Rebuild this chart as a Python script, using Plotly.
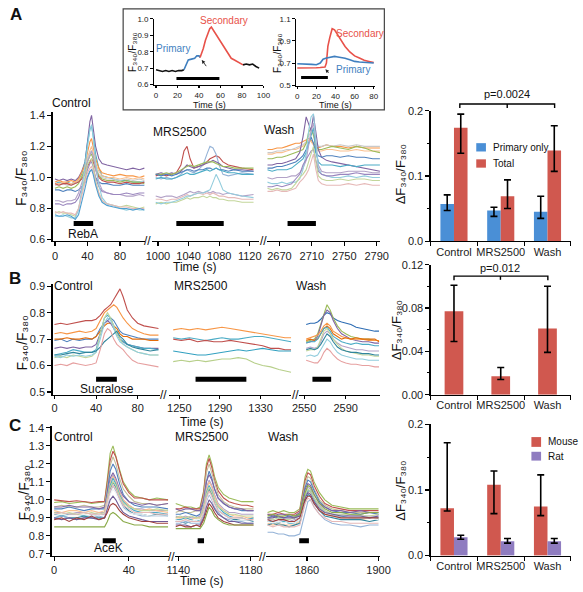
import plotly.graph_objects as go

W, H = 583, 592
FONT = "Liberation Sans, Arial, Helvetica, sans-serif"


def px(x):
    return x / W


def py(y):
    return 1 - y / H

# ======================= DATA =======================
# ---- inset, left cell (primary then secondary response) ----
INL_pre_t = [0, 3, 6, 9, 12, 15, 18, 21, 24, 26]
INL_pre_v = [.69, .685, .68, .685, .68, .685, .68, .685, .685, .69]
INL_pri_t = [26, 28, 30, 33, 36, 38, 40, 41]
INL_pri_v = [.69, .72, .75, .755, .76, .775, .775, .765]
INL_sec_t = [41, 42, 44, 46, 48, 50, 51.5, 53, 55, 58, 61, 64, 67, 70, 73, 76, 79, 81]
INL_sec_v = [.765, .78, .82, .87, .91, .94, .95, .935, .91, .88, .85, .82, .79, .76, .75, .74, .73, .72]
INL_post_t = [81, 84, 87, 90, 93, 96]
INL_post_v = [.72, .725, .72, .725, .71, .70]
INL_stim = [19, 59]
INL_stim_level = 0.637
# ---- inset, right cells ----
INR_t = [0, 5, 10, 15, 20, 24, 27, 29, 30.5, 32, 34, 36.5, 39, 42.5, 46, 50, 55, 60, 65, 70, 75, 80]
INR_pri = [.694, .69, .692, .688, .685, .70, .735, .744, .745, .748, .75, .755, .76, .755, .75, .744, .73, .715, .71, .705, .70, .70]
INR_sec = [.656, .655, .66, .655, .658, .66, .66, .665, .70, .85, .93, 1.01, 1.0, .95, .90, .85, .80, .765, .745, .725, .715, .705]
INR_stim = [4, 32]
INR_stim_level = 0.57

# ---- Panel A traces (RebA) ----
A1_t = [0, 5, 10, 15, 20, 25, 29, 33, 37, 40, 43, 45, 47, 50, 54, 58, 64, 72, 80, 88, 96, 104, 110]
A1_v = [
    [.99, .98, .99, .98, .99, .98, 1.0, 1.04, 1.1, 1.22, 1.36, 1.40, 1.33, 1.2, 1.12, 1.09, 1.08, 1.07, 1.06, 1.05, 1.06, 1.05, 1.06],
    [.96, .97, .96, .97, .96, .97, .98, 1.02, 1.1, 1.22, 1.31, 1.33, 1.27, 1.15, 1.06, 1.01, 1.0, .99, .98, .98, .97, .97, .97],
    [.97, .98, .97, .97, .98, .97, .99, 1.03, 1.08, 1.16, 1.23, 1.25, 1.2, 1.12, 1.06, 1.03, 1.02, 1.01, 1.02, 1.01, 1.01, 1.0, 1.01],
    [.96, .96, .97, .96, .96, .97, .98, 1.01, 1.06, 1.13, 1.18, 1.2, 1.16, 1.09, 1.04, 1.01, 1.0, 1.0, .99, 1.0, .99, 1.0, .99],
    [.95, .95, .96, .95, .95, .96, .97, 1.0, 1.05, 1.12, 1.16, 1.17, 1.14, 1.07, 1.02, 1.0, .99, .99, .98, .99, .98, .99, .98],
    [.93, .94, .93, .94, .93, .94, .96, 1.0, 1.05, 1.1, 1.14, 1.15, 1.12, 1.06, 1.01, .99, .98, .98, .97, .98, .97, .97, .96],
    [.96, .95, .96, .96, .95, .96, .97, .99, 1.02, 1.07, 1.1, 1.12, 1.1, 1.05, 1.0, .98, .97, .97, .96, .97, .96, .96, .97],
    [.92, .92, .91, .92, .92, .91, .92, .94, .97, 1.01, 1.04, 1.05, 1.04, 1.0, .97, .96, .96, .95, .95, .96, .95, .95, .95],
    [.85, .85, .84, .85, .85, .86, .9, .96, 1.03, 1.1, 1.15, 1.17, 1.14, 1.05, .97, .92, .9, .89, .89, .88, .88, .89, .88],
    [.83, .83, .82, .83, .83, .84, .87, .93, .99, 1.05, 1.09, 1.1, 1.07, 1.0, .94, .91, .9, .89, .89, .9, .89, .9, .9],
    [.77, .78, .77, .77, .76, .75, .8, .9, 1.0, 1.08, 1.11, 1.12, 1.08, .98, .9, .85, .83, .82, .81, .82, .81, .8, .81],
    [.75, .75, .76, .75, .74, .74, .79, .92, 1.08, 1.22, 1.31, 1.34, 1.26, 1.1, .95, .87, .83, .82, .8, .79, .8, .79, .79],
    [.78, .77, .78, .77, .77, .76, .8, .88, .96, 1.03, 1.06, 1.07, 1.04, .96, .9, .85, .83, .82, .81, .81, .8, .8, .8],
    [.76, .75, .75, .76, .75, .73, .76, .84, .93, 1.0, 1.04, 1.05, 1.02, .95, .88, .84, .82, .81, .8, .8, .79, .8, .79],
]
A2_t = [997, 1004, 1011, 1018, 1024, 1030, 1034, 1038, 1042, 1047, 1053, 1059, 1064, 1068, 1072, 1076, 1080, 1085, 1092, 1100, 1110, 1125]
A2_v = [
    [1.01, 1.02, 1.01, 1.02, 1.03, 1.08, 1.17, 1.2, 1.12, 1.06, 1.07, 1.08, 1.1, 1.12, 1.13, 1.14, 1.13, 1.1, 1.08, 1.07, 1.06, 1.05],
    [1.0, .99, 1.0, .99, 1.0, 1.02, 1.04, 1.05, 1.04, 1.03, 1.05, 1.08, 1.15, 1.2, 1.19, 1.15, 1.08, 1.02, 1.01, 1.02, 1.03, 1.02],
    [1.02, 1.03, 1.02, 1.03, 1.02, 1.04, 1.06, 1.08, 1.07, 1.06, 1.07, 1.08, 1.09, 1.1, 1.11, 1.1, 1.09, 1.07, 1.06, 1.05, 1.05, 1.04],
    [1.02, 1.02, 1.03, 1.02, 1.03, 1.05, 1.06, 1.07, 1.08, 1.07, 1.08, 1.09, 1.1, 1.1, 1.1, 1.09, 1.08, 1.07, 1.07, 1.06, 1.06, 1.06],
    [1.02, 1.01, 1.02, 1.01, 1.02, 1.03, 1.04, 1.05, 1.05, 1.04, 1.05, 1.05, 1.06, 1.06, 1.05, 1.06, 1.05, 1.05, 1.04, 1.05, 1.04, 1.04],
    [.99, 1.0, .99, .99, 1.0, 1.01, 1.02, 1.03, 1.02, 1.02, 1.03, 1.04, 1.05, 1.04, 1.05, 1.06, 1.05, 1.04, 1.03, 1.03, 1.02, 1.02],
    [.88, .87, .88, .88, .87, .88, .89, .9, .91, .9, .91, .9, .91, .9, .91, .9, .9, .89, .9, .89, .88, .89],
    [.86, .86, .85, .86, .86, .87, .88, .89, .88, .89, .9, .89, .9, .89, .9, .89, .88, .88, .87, .87, .86, .86],
    [.83, .84, .83, .84, .84, .85, .86, .87, .86, .87, .87, .88, .87, .88, .87, .87, .86, .86, .85, .85, .84, .84],
    [.84, .83, .84, .84, .85, .86, .87, .88, .88, .89, .9, .9, .91, .92, .97, 1.02, .98, .92, .9, .89, .88, .87],
]
A3_t = [2655, 2661, 2667, 2673, 2679, 2685, 2690, 2695, 2699, 2703, 2706, 2709, 2712, 2715, 2718, 2722, 2728, 2735, 2745, 2755, 2765, 2775, 2785, 2794]
A3_v = [
    [1.18, 1.18, 1.19, 1.19, 1.2, 1.21, 1.22, 1.22, 1.23, 1.24, 1.25, 1.24, 1.22, 1.2, 1.19, 1.2, 1.21, 1.2, 1.2, 1.19, 1.2, 1.19, 1.19, 1.19],
    [1.15, 1.15, 1.16, 1.16, 1.17, 1.18, 1.18, 1.19, 1.2, 1.22, 1.24, 1.23, 1.21, 1.18, 1.17, 1.17, 1.18, 1.18, 1.17, 1.17, 1.18, 1.17, 1.17, 1.17],
    [1.16, 1.16, 1.17, 1.17, 1.18, 1.18, 1.19, 1.2, 1.21, 1.23, 1.26, 1.3, 1.28, 1.22, 1.2, 1.2, 1.21, 1.2, 1.21, 1.2, 1.21, 1.2, 1.2, 1.2],
    [1.12, 1.12, 1.13, 1.13, 1.14, 1.15, 1.16, 1.17, 1.18, 1.22, 1.29, 1.32, 1.27, 1.2, 1.18, 1.18, 1.19, 1.2, 1.19, 1.18, 1.2, 1.19, 1.17, 1.16],
    [1.08, 1.08, 1.09, 1.09, 1.1, 1.11, 1.12, 1.16, 1.26, 1.39, 1.35, 1.3, 1.4, 1.3, 1.18, 1.13, 1.11, 1.1, 1.09, 1.08, 1.07, 1.06, 1.05, 1.04],
    [1.06, 1.06, 1.07, 1.07, 1.08, 1.09, 1.1, 1.12, 1.14, 1.18, 1.22, 1.26, 1.22, 1.16, 1.14, 1.13, 1.14, 1.14, 1.13, 1.14, 1.13, 1.13, 1.12, 1.12],
    [1.05, 1.04, 1.05, 1.05, 1.05, 1.06, 1.08, 1.1, 1.12, 1.16, 1.22, 1.27, 1.32, 1.16, 1.1, 1.08, 1.08, 1.08, 1.07, 1.08, 1.07, 1.08, 1.08, 1.08],
    [1.0, .99, 1.0, 1.0, 1.0, 1.01, 1.01, 1.03, 1.06, 1.11, 1.2, 1.3, 1.35, 1.2, 1.08, 1.04, 1.03, 1.03, 1.03, 1.04, 1.04, 1.04, 1.03, 1.03],
    [.97, .96, .96, .97, .96, .97, .97, .99, 1.05, 1.15, 1.3, 1.39, 1.41, 1.22, 1.06, 1.02, 1.01, 1.0, 1.0, 1.01, 1.0, 1.01, 1.0, 1.0],
    [.94, .94, .95, .94, .95, .96, .99, 1.02, 1.08, 1.12, 1.15, 1.17, 1.18, 1.1, 1.04, 1.02, 1.01, 1.01, 1.02, 1.02, 1.03, 1.02, 1.02, 1.02],
    [.93, .92, .93, .92, .92, .93, .96, 1.0, 1.02, 1.05, 1.1, 1.15, 1.2, 1.1, 1.01, .99, .98, .98, .99, .98, .99, .99, .98, .98],
    [.91, .91, .92, .91, .91, .92, .93, .97, .99, 1.02, 1.05, 1.1, 1.15, 1.05, .98, .96, .95, .95, .95, .96, .95, .96, .95, .95],
]
A_stim = [[23, 47], [1024, 1086], [2680, 2715]]
A_stim_level = 0.703

# ---- Panel B traces (Sucralose) ----
B1_t = [0, 6, 12, 18, 24, 30, 36, 40, 44, 48, 51, 54, 57, 60, 63, 66, 70, 75, 80, 86, 92, 100]
B1_v = [
    [.755, .76, .755, .76, .765, .77, .77, .775, .79, .81, .82, .83, .85, .87, .89, .86, .81, .78, .76, .75, .745, .74],
    [.72, .725, .72, .725, .73, .725, .73, .74, .77, .8, .81, .82, .83, .82, .8, .78, .76, .74, .73, .72, .715, .715],
    [.695, .7, .69, .7, .695, .7, .7, .71, .74, .76, .77, .78, .77, .75, .73, .72, .715, .71, .705, .7, .7, .7],
    [.7, .7, .705, .7, .7, .705, .7, .71, .73, .75, .76, .76, .75, .74, .72, .71, .71, .7, .7, .7, .695, .695],
    [.665, .67, .665, .67, .665, .67, .67, .68, .72, .76, .77, .76, .74, .72, .7, .69, .68, .675, .67, .665, .665, .665],
    [.64, .645, .65, .66, .655, .65, .65, .66, .72, .78, .79, .78, .75, .72, .7, .69, .68, .675, .67, .665, .665, .66],
    [.63, .635, .63, .64, .635, .63, .635, .65, .72, .78, .8, .78, .75, .72, .7, .68, .67, .66, .65, .645, .64, .64],
    [.635, .63, .64, .635, .64, .635, .64, .65, .7, .76, .78, .77, .74, .71, .69, .68, .67, .66, .65, .645, .64, .64],
    [.64, .64, .645, .65, .645, .65, .65, .655, .67, .69, .7, .71, .72, .73, .71, .7, .68, .67, .665, .66, .655, .66],
    [.6, .605, .6, .61, .605, .6, .605, .61, .66, .72, .74, .73, .7, .68, .67, .66, .64, .62, .61, .605, .6, .595],
]
B2_t = [1244, 1252, 1260, 1268, 1276, 1284, 1292, 1300, 1308, 1316, 1324, 1332, 1340, 1348, 1354, 1360]
B2_v = [
    [.735, .74, .735, .74, .735, .74, .745, .74, .735, .73, .725, .72, .715, .71, .705, .705],
    [.705, .7, .705, .7, .695, .7, .705, .7, .7, .705, .71, .71, .705, .7, .695, .69],
    [.7, .695, .7, .69, .695, .69, .69, .695, .69, .685, .68, .675, .665, .665, .66, .66],
    [.655, .65, .645, .64, .64, .645, .65, .655, .66, .655, .66, .665, .66, .655, .655, .655],
    [.615, .62, .615, .62, .615, .62, .625, .625, .63, .625, .61, .6, .595, .585, .58, .575],
]
B3_t = [2552, 2556, 2560, 2563, 2566, 2569, 2572, 2575, 2578, 2582, 2586, 2590, 2595, 2600, 2606, 2612, 2618, 2622]
B3_v = [
    [.755, .76, .76, .765, .775, .79, .8, .795, .78, .77, .765, .76, .755, .745, .74, .735, .73, .73],
    [.69, .695, .7, .72, .76, .8, .83, .81, .78, .75, .73, .72, .71, .705, .7, .7, .695, .695],
    [.685, .69, .695, .71, .75, .79, .81, .8, .77, .74, .72, .71, .7, .695, .69, .69, .685, .685],
    [.7, .705, .71, .715, .73, .75, .76, .75, .73, .72, .71, .705, .7, .7, .7, .695, .695, .695],
    [.695, .7, .695, .7, .72, .74, .75, .74, .72, .71, .7, .705, .7, .705, .7, .7, .7, .69],
    [.685, .69, .69, .7, .72, .74, .745, .73, .71, .7, .69, .685, .68, .685, .68, .68, .675, .675],
    [.665, .67, .665, .67, .69, .72, .73, .72, .7, .685, .675, .67, .665, .66, .66, .655, .655, .655],
    [.655, .66, .66, .67, .7, .73, .74, .72, .7, .68, .665, .655, .65, .645, .64, .64, .635, .635],
    [.66, .665, .66, .665, .68, .7, .72, .71, .69, .67, .66, .655, .65, .65, .645, .645, .64, .64],
    [.635, .64, .635, .64, .66, .68, .7, .69, .67, .65, .64, .635, .63, .625, .625, .62, .62, .62],
    [.62, .615, .61, .61, .625, .65, .665, .655, .64, .625, .615, .61, .605, .605, .6, .6, .595, .595],
]
B_stim = [[40, 60], [1266, 1316], [2558, 2576]]
B_stim_level = 0.548

# ---- Panel C traces (AceK) ----
C1_t = [0, 4, 8, 12, 16, 20, 24, 27, 28.5, 30, 31.5, 33, 35, 37, 40, 43, 47, 51, 55, 61]
C1_v = [
    [.985, .99, .98, .985, .99, .98, .985, .99, 1.12, 1.26, 1.3, 1.25, 1.17, 1.1, 1.05, 1.02, 1.01, 1.0, 1.01, 1.0],
    [1.0, .995, .99, .995, .99, .985, .99, .99, 1.1, 1.22, 1.27, 1.24, 1.16, 1.09, 1.04, 1.01, 1.01, 1.0, 1.0, 1.0],
    [.96, .97, .96, .96, .97, .96, .96, .97, 1.07, 1.19, 1.24, 1.2, 1.12, 1.06, 1.02, .99, .98, .98, .97, .98],
    [.95, .95, .96, .95, .94, .95, .95, .95, 1.05, 1.16, 1.2, 1.17, 1.09, 1.03, .99, .97, .96, .96, .96, .95],
    [.96, .96, .97, .96, .96, .96, .95, .96, 1.03, 1.12, 1.15, 1.12, 1.06, 1.02, .99, .98, .97, .98, .97, .98],
    [.93, .93, .92, .93, .93, .92, .93, .93, 1.02, 1.1, 1.14, 1.11, 1.05, 1.0, .97, .95, .95, .94, .94, .94],
    [.94, .93, .94, .94, .93, .94, .93, .94, 1.01, 1.09, 1.13, 1.1, 1.04, 1.0, .97, .95, .94, .95, .94, .93],
    [.92, .91, .92, .92, .91, .91, .92, .92, 1.0, 1.08, 1.12, 1.09, 1.03, .99, .96, .94, .93, .93, .93, .92],
    [.9, .91, .9, .9, .91, .9, .9, .9, .98, 1.06, 1.1, 1.07, 1.01, .97, .94, .92, .92, .91, .92, .91],
    [.93, .92, .93, .92, .92, .93, .92, .93, 1.0, 1.07, 1.1, 1.08, 1.02, .98, .96, .95, .94, .94, .95, .94],
    [.9, .91, .9, .89, .9, .9, .91, .9, .97, 1.04, 1.08, 1.05, 1.0, .96, .93, .92, .91, .91, .91, .91],
    [.91, .92, .91, .91, .92, .91, .92, .91, .98, 1.03, 1.06, 1.04, .99, .95, .93, .92, .92, .91, .91, .91],
    [.9, .89, .9, .89, .9, .9, .89, .9, .95, 1.0, 1.02, 1.0, .96, .93, .91, .9, .89, .88, .88, .88],
    [.89, .9, .88, .9, .89, .91, .89, .9, .93, .97, .98, .97, .94, .92, .9, .89, .88, .88, .87, .87],
    [.85, .85, .85, .85, .85, .85, .85, .85, .88, .92, .93, .92, .9, .88, .87, .86, .86, .85, .85, .85],
    [.92, .93, .92, .92, .93, .92, .92, .92, .99, 1.05, 1.08, 1.06, 1.01, .97, .95, .93, .93, .93, .92, .92],
]
C2_t = [1138.5, 1141, 1144, 1147, 1150, 1152, 1154, 1155.5, 1157, 1158.5, 1160, 1162, 1165, 1168, 1171, 1175, 1178, 1181.5]
C2_v = [
    [.98, .97, .96, .96, .95, .96, 1.05, 1.2, 1.25, 1.2, 1.13, 1.07, 1.03, 1.01, 1.0, .99, .99, .99],
    [.95, .95, .96, .95, .95, .95, 1.04, 1.18, 1.23, 1.18, 1.11, 1.05, 1.01, .99, .98, .97, .97, .96],
    [.93, .94, .93, .93, .94, .94, 1.02, 1.15, 1.2, 1.15, 1.09, 1.03, .99, .97, .96, .95, .95, .95],
    [.92, .92, .93, .92, .91, .92, .99, 1.1, 1.16, 1.12, 1.06, 1.01, .98, .96, .95, .94, .94, .94],
    [.95, .94, .95, .95, .94, .94, 1.0, 1.1, 1.14, 1.11, 1.06, 1.01, .98, .96, .95, .95, .94, .94],
    [.91, .9, .91, .9, .9, .91, .97, 1.07, 1.11, 1.08, 1.03, .98, .95, .93, .93, .92, .92, .92],
    [.9, .9, .9, .89, .9, .9, .96, 1.05, 1.1, 1.07, 1.02, .97, .94, .92, .91, .91, .9, .9],
    [.89, .89, .9, .89, .88, .89, .95, 1.04, 1.08, 1.05, 1.0, .96, .93, .91, .9, .9, .89, .9],
    [.88, .88, .87, .88, .88, .88, .93, 1.01, 1.06, 1.03, .98, .94, .92, .9, .89, .89, .89, .88],
    [.9, .91, .9, .91, .9, .9, .95, 1.03, 1.07, 1.04, 1.0, .96, .94, .92, .92, .91, .91, .91],
    [.87, .87, .88, .87, .87, .87, .92, .99, 1.03, 1.0, .96, .93, .9, .89, .88, .88, .87, .87],
    [.89, .88, .89, .88, .89, .89, .93, 1.0, 1.04, 1.01, .97, .94, .92, .9, .9, .89, .89, .89],
    [.86, .86, .86, .85, .86, .86, .9, .96, 1.0, .98, .95, .92, .9, .88, .88, .87, .87, .87],
    [.85, .86, .85, .85, .86, .85, .89, .94, .98, .96, .93, .9, .88, .87, .86, .86, .86, .86],
    [.84, .84, .84, .84, .84, .84, .87, .92, .96, .94, .91, .89, .87, .86, .86, .86, .86, .86],
    [.88, .88, .89, .88, .88, .88, .93, 1.01, 1.05, 1.02, .98, .94, .92, .9, .9, .9, .89, .89],
]
C3_t = [1838, 1841, 1844, 1847, 1850, 1853, 1856, 1857.5, 1859, 1860.5, 1862, 1864, 1867, 1870, 1874, 1879, 1884, 1890, 1895, 1900]
C3_v = [
    [.93, .94, .93, .94, .93, .93, .95, 1.05, 1.13, 1.17, 1.16, 1.1, 1.04, 1.0, .97, .96, .95, .95, .95, .95],
    [.92, .92, .93, .92, .92, .92, .94, 1.03, 1.11, 1.15, 1.14, 1.08, 1.02, .98, .96, .95, .94, .94, .94, .94],
    [.91, .91, .9, .91, .91, .9, .93, 1.01, 1.09, 1.13, 1.12, 1.06, 1.0, .97, .95, .94, .93, .93, .93, .92],
    [.9, .91, .9, .9, .91, .9, .92, 1.0, 1.07, 1.11, 1.1, 1.05, .99, .96, .94, .93, .93, .92, .93, .92],
    [.92, .91, .92, .92, .91, .91, .93, 1.0, 1.06, 1.09, 1.08, 1.03, .98, .96, .94, .94, .93, .94, .93, .93],
    [.89, .89, .88, .89, .88, .89, .9, .97, 1.04, 1.07, 1.06, 1.01, .97, .94, .92, .92, .91, .91, .91, .91],
    [.87, .86, .87, .86, .86, .86, .88, .95, 1.02, 1.05, 1.04, .99, .95, .92, .91, .9, .9, .89, .9, .9],
    [.88, .88, .87, .88, .87, .87, .89, .96, 1.02, 1.05, 1.05, 1.0, .96, .93, .91, .91, .9, .9, .9, .9],
    [.86, .87, .86, .86, .85, .86, .87, .93, .99, 1.03, 1.02, .98, .94, .91, .9, .89, .89, .89, .88, .89],
    [.9, .89, .9, .89, .89, .9, .91, .97, 1.03, 1.06, 1.05, 1.01, .96, .94, .92, .92, .92, .91, .91, .92],
    [.82, .82, .81, .81, .8, .8, .81, .87, .94, .99, 1.0, .96, .92, .89, .87, .86, .86, .85, .86, .86],
    [.88, .87, .88, .87, .88, .87, .89, .95, 1.01, 1.04, 1.03, .99, .95, .93, .91, .9, .9, .9, .9, .89],
    [.9, .9, .91, .9, .9, .9, .91, .96, 1.01, 1.04, 1.03, .99, .95, .93, .92, .91, .91, .91, .9, .91],
    [.89, .88, .89, .89, .88, .88, .9, .95, 1.0, 1.02, 1.02, .98, .94, .92, .91, .9, .9, .9, .9, .9],
    [.91, .92, .91, .91, .92, .91, .92, .98, 1.04, 1.08, 1.07, 1.03, .98, .95, .93, .93, .92, .92, .93, .93],
    [.86, .85, .86, .85, .85, .85, .86, .92, .98, 1.01, 1.0, .96, .92, .9, .88, .88, .87, .87, .87, .87],
]
C_stim = [[26, 33], [1150.7, 1154.2], [1855.7, 1861.1]]
C_stim_level = 0.773

# ---- bar charts ----
CATS = ["Control", "MRS2500", "Wash"]
A_primary = [0.057, 0.047, 0.045]
A_primary_hi = [0.071, 0.052, 0.069]
A_primary_lo = [0.047, 0.038, 0.035]
A_total = [0.174, 0.069, 0.139]
A_total_hi = [0.195, 0.094, 0.177]
A_total_lo = [0.135, 0.050, 0.107]
B_total = [0.077, 0.017, 0.061]
B_total_hi = [0.101, 0.025, 0.100]
B_total_lo = [0.049, 0.014, 0.039]
C_mouse = [0.072, 0.108, 0.075]
C_mouse_hi = [0.172, 0.129, 0.123]
C_mouse_lo = [0.068, 0.064, 0.061]
C_rat = [0.028, 0.022, 0.022]
C_rat_hi = [0.031, 0.026, 0.026]
C_rat_lo = [0.025, 0.019, 0.019]

# ======================= STYLE =======================
A1_col = ['#8064A2', '#4BACC6', '#F79646', '#FAC090', '#C9C9C9', '#9BBB59', '#C0504D',
          '#4F81BD', '#B3A2C7', '#9A86BE', '#C3D69B', '#93CDDD', '#E6B9B8', '#4F9FD0']
A2_col = ['#C0504D', '#95B3D7', '#8064A2', '#9BBB59', '#4F81BD', '#4BACC6',
          '#B3A2C7', '#E6B9B8', '#C3D69B', '#93CDDD']
A3_col = ['#F79646', '#FAC090', '#C9C9C9', '#9BBB59', '#8064A2', '#4F81BD',
          '#4BACC6', '#B3A2C7', '#93CDDD', '#9A86BE', '#C3D69B', '#E6B9B8']
B1_col = ['#C0504D', '#F79646', '#4F81BD', '#E46C0A', '#8064A2', '#4BACC6',
          '#C3D69B', '#93CDDD', '#31859C', '#E6A0A0']
B2_col = ['#F79646', '#4BACC6', '#C0504D', '#31A0C0', '#B7CF8A']
B3_col = ['#2E6DB4', '#9BBB59', '#8064A2', '#F79646', '#E46C0A', '#4BACC6',
          '#B3A2C7', '#C3D69B', '#31859C', '#93CDDD', '#E6A0A0']
C_col = ['#9BBB59', '#C0504D', '#C4BD97', '#4F81BD', '#8064A2', '#B3A2C7', '#FAC090',
         '#4BACC6', '#31859C', '#C3D69B', '#95B3D7', '#F2F2F2', '#6F5A96', '#A0403D',
         '#8AAA48', '#E6B9B8']

BLUE_BAR = '#4A8FD6'
RED_BAR = '#D0584F'
PURPLE_BAR = '#8F7CC0'

fig = go.Figure()

AX = dict(showline=True, linecolor='black', linewidth=1.2, ticks='outside', ticklen=4,
          tickwidth=1.1, tickcolor='black', showgrid=False, zeroline=False,
          tickfont=dict(family=FONT, size=11, color='#222'))


def xax(dom, rng, tickvals, anchor, **kw):
    d = dict(AX)
    d.update(domain=[px(dom[0]), px(dom[1])], range=rng, tickvals=tickvals, anchor=anchor,
             tickangle=0)
    d.update(kw)
    return d


def yax(dom, rng, tickvals, anchor, fmt='.1f', **kw):
    d = dict(AX)
    d.update(domain=[py(dom[0]), py(dom[1])], range=rng, tickvals=tickvals, anchor=anchor,
             tickformat=fmt)
    d.update(kw)
    return d


def barx(anchor):
    d = dict(AX)
    d.update(domain=[px(435.8), px(580.8)], type='category', range=[-0.5, 2.5],
             anchor=anchor, tickson='boundaries', tickangle=0,
             tickfont=dict(family=FONT, size=11, color='#222'))
    return d


layout = {}
# Panel A traces
layout['yaxis'] = yax([240, 108.4], [0.59, 1.42], [0.6, 0.8, 1.0, 1.2, 1.4], 'x')
layout['xaxis'] = xax([45, 141], [-3, 111.3], [0, 40, 80], 'y')
layout['xaxis2'] = xax([148, 258], [992.4, 1131.6], [1000, 1040, 1080, 1120], 'y')
layout['xaxis3'] = xax([267, 384], [2655, 2794.7], [2670, 2710, 2750, 2790], 'y')
# Panel A bar
MIN = dict(ticks='outside', ticklen=2.5, tickcolor='black', tickwidth=1)
layout['xaxis4'] = barx('y2')
layout['yaxis2'] = yax([240, 107], [0, 0.2], [0, 0.1, 0.2], 'x4', minor=dict(MIN, dtick=0.05))
# Panel B traces
layout['yaxis3'] = yax([396.7, 283.3], [0.49, 0.91], [0.5, 0.6, 0.7, 0.8, 0.9], 'x5')
layout['xaxis5'] = xax([45, 156], [-1.86, 101.4], [0, 40, 80], 'y3', ticklen=3)
layout['xaxis6'] = xax([165, 292], [1239.5, 1360.4], [1250, 1290, 1330], 'y3', ticklen=3)
layout['xaxis7'] = xax([300, 384], [2545.3, 2623.4], [2550, 2590], 'y3', ticklen=3)
# Panel B bar
layout['xaxis8'] = barx('y4')
layout['yaxis4'] = yax([396.7, 264], [0, 0.12], [0, 0.04, 0.08, 0.12], 'x8', fmt='.2f',
                       minor=dict(MIN, dtick=0.02))
# Panel C traces
layout['yaxis5'] = yax([561, 428.8], [0.69, 1.41], [0.7, 0.8, 0.9, 1.0, 1.1, 1.2, 1.3, 1.4], 'x9')
layout['xaxis9'] = xax([44, 165], [-1.4, 61.3], [0, 40], 'y5')
layout['xaxis10'] = xax([172, 258], [1138.4, 1184.3], [1140, 1180], 'y5')
layout['xaxis11'] = xax([266, 384], [1837.3, 1901.1], [1860, 1900], 'y5')
# Panel C bar
layout['xaxis12'] = barx('y6')
layout['yaxis6'] = yax([561, 427], [0, 0.2], [0, 0.1, 0.2], 'x12', minor=dict(MIN, dtick=0.05))
# Insets
SM = dict(family=FONT, size=8, color='#222')
layout['xaxis13'] = xax([150, 263], [-1.8, 100], [0, 20, 40, 60, 80, 100], 'y7',
                        tickfont=SM, ticklen=2, linewidth=1)
layout['yaxis7'] = yax([81, 13.2], [0.595, 1.0], [0.6, 0.7, 0.8, 0.9, 1.0], 'x13',
                       tickfont=SM, ticklen=3, linewidth=1)
layout['xaxis14'] = xax([297, 378], [-1, 81], [0, 20, 40, 60, 80], 'y8',
                        tickfont=SM, ticklen=2, linewidth=1)
layout['yaxis8'] = yax([82, 13], [0.49, 1.1], [0.5, 0.7, 0.9, 1.1], 'x14',
                       tickfont=SM, ticklen=3, linewidth=1)


def add_lines(t, vals, cols, xa, ya, width=1.1):
    for v, c in zip(vals, cols):
        fig.add_trace(go.Scatter(x=t, y=v, mode='lines', line=dict(color=c, width=width),
                                 xaxis=xa, yaxis=ya, showlegend=False, hoverinfo='skip'))


def add_stim(seg, level, xa, ya):
    fig.add_trace(go.Scatter(x=seg, y=[level, level], mode='lines',
                             line=dict(color='black', width=5), xaxis=xa, yaxis=ya,
                             showlegend=False, hoverinfo='skip'))


add_lines(A1_t, A1_v, A1_col, 'x', 'y')
add_lines(A2_t, A2_v, A2_col, 'x2', 'y')
add_lines(A3_t, A3_v, A3_col, 'x3', 'y')
for seg, xa in zip(A_stim, ['x', 'x2', 'x3']):
    add_stim(seg, A_stim_level, xa, 'y')

add_lines(B1_t, B1_v, B1_col, 'x5', 'y3')
add_lines(B2_t, B2_v, B2_col, 'x6', 'y3')
add_lines(B3_t, B3_v, B3_col, 'x7', 'y3')
for seg, xa in zip(B_stim, ['x5', 'x6', 'x7']):
    add_stim(seg, B_stim_level, xa, 'y3')

add_lines(C1_t, C1_v, C_col, 'x9', 'y5')
add_lines(C2_t, C2_v, C_col, 'x10', 'y5')
add_lines(C3_t, C3_v, C_col, 'x11', 'y5')
for seg, xa in zip(C_stim, ['x9', 'x10', 'x11']):
    add_stim(seg, C_stim_level, xa, 'y5')

# insets
INS_BLACK = '#111111'
INS_BLUE = '#3F7FBF'
INS_RED = '#E8524A'
for t, v, c in [(INL_pre_t, INL_pre_v, INS_BLACK), (INL_pri_t, INL_pri_v, INS_BLUE),
                (INL_sec_t, INL_sec_v, INS_RED), (INL_post_t, INL_post_v, INS_BLACK)]:
    fig.add_trace(go.Scatter(x=t, y=v, mode='lines', line=dict(color=c, width=1.6),
                             xaxis='x13', yaxis='y7', showlegend=False, hoverinfo='skip'))
fig.add_trace(go.Scatter(x=INL_stim, y=[INL_stim_level] * 2, mode='lines',
                         line=dict(color='black', width=3), xaxis='x13', yaxis='y7',
                         showlegend=False, hoverinfo='skip'))
fig.add_trace(go.Scatter(x=INR_t, y=INR_sec, mode='lines', line=dict(color=INS_RED, width=1.6),
                         xaxis='x14', yaxis='y8', showlegend=False, hoverinfo='skip'))
fig.add_trace(go.Scatter(x=INR_t, y=INR_pri, mode='lines', line=dict(color=INS_BLUE, width=1.6),
                         xaxis='x14', yaxis='y8', showlegend=False, hoverinfo='skip'))
fig.add_trace(go.Scatter(x=INR_stim, y=[INR_stim_level] * 2, mode='lines',
                         line=dict(color='black', width=3), xaxis='x14', yaxis='y8',
                         showlegend=False, hoverinfo='skip'))


def err(vals, hi, lo):
    return dict(type='data', symmetric=False,
                array=[h - v for h, v in zip(hi, vals)],
                arrayminus=[v - l for v, l in zip(vals, lo)],
                color='black', thickness=1.6, width=3.5)


BW2 = 0.29
fig.add_trace(go.Bar(x=CATS, y=A_primary, marker=dict(color=BLUE_BAR, line=dict(width=0)),
                     width=BW2, offset=-BW2, error_y=err(A_primary, A_primary_hi, A_primary_lo),
                     xaxis='x4', yaxis='y2', showlegend=False))
fig.add_trace(go.Bar(x=CATS, y=A_total, marker=dict(color=RED_BAR, line=dict(width=0)),
                     width=BW2, offset=0, error_y=err(A_total, A_total_hi, A_total_lo),
                     xaxis='x4', yaxis='y2', showlegend=False))
fig.add_trace(go.Bar(x=CATS, y=B_total, marker=dict(color=RED_BAR, line=dict(width=0)),
                     width=0.4, offset=-0.2, error_y=err(B_total, B_total_hi, B_total_lo),
                     xaxis='x8', yaxis='y4', showlegend=False))
fig.add_trace(go.Bar(x=CATS, y=C_mouse, marker=dict(color=RED_BAR, line=dict(width=0)),
                     width=BW2, offset=-BW2, error_y=err(C_mouse, C_mouse_hi, C_mouse_lo),
                     xaxis='x12', yaxis='y6', showlegend=False))
fig.add_trace(go.Bar(x=CATS, y=C_rat, marker=dict(color=PURPLE_BAR, line=dict(width=0)),
                     width=BW2, offset=0, error_y=err(C_rat, C_rat_hi, C_rat_lo),
                     xaxis='x12', yaxis='y6', showlegend=False))

ann = []


def text(x, y, s, size=11, bold=False, angle=0, color='#111', xanchor='center'):
    ann.append(dict(x=px(x), y=py(y), xref='paper', yref='paper', text=('<b>%s</b>' % s) if bold else s,
                    showarrow=False, xanchor=xanchor, yanchor='middle', textangle=angle,
                    font=dict(family=FONT, size=size, color=color)))


text(7, 9, 'A', 17, bold=True)
text(6, 278, 'B', 17, bold=True)
text(6, 428, 'C', 17, bold=True)
for (x, y, s) in [(65, 99, 'Control'), (177, 129, 'MRS2500'), (279, 127, 'Wash'),
                  (67, 286, 'Control'), (198, 286, 'MRS2500'), (312, 286, 'Wash'),
                  (67, 440, 'Control'), (200, 440, 'MRS2500'), (283, 440, 'Wash')]:
    text(x, y, s, 12)
text(77, 233, 'RebA', 12)
text(101, 391, 'Sucralose', 12)
text(103, 553, 'AceK', 12)
text(192, 266, 'Time (s)', 12)
text(200, 424.5, 'Time (s)', 12)
text(200, 586.5, 'Time (s)', 12)
text(207, 101, 'Time (s)', 9)
text(337, 101, 'Time (s)', 9)
FR = 'F\u2083\u2084\u2080/F\u2083\u2088\u2080'
text(13, 176, FR, 14, angle=-90)
text(13, 344, FR, 14, angle=-90)
text(15, 497, FR, 14, angle=-90)
text(127, 47, FR, 10, angle=-90)
text(277, 48, FR, 10, angle=-90)
DFR = '\u0394F\u2083\u2084\u2080/F\u2083\u2088\u2080'
text(405, 172, DFR, 13, angle=-90)
text(400, 331, DFR, 13, angle=-90)
text(405, 495, DFR, 13, angle=-90)
text(515, 90, 'p=0.0024', 11)
text(508, 267, 'p=0.012', 11)
for (x, y) in [(143, 240), (263, 240), (160, 397), (296, 397), (168, 562), (262, 562)]:
    text(x, y, '//', 12)
# legends
text(498, 144, 'Primary only', 10, xanchor='left')
text(498, 161, 'Total', 10, xanchor='left')
text(555, 445, 'Mouse', 10, xanchor='left')
text(555, 460, 'Rat', 10, xanchor='left')

# inset text + arrows (data coordinates)
ann.append(dict(x=16, y=0.82, xref='x13', yref='y7', text='Primary', showarrow=False,
                font=dict(family=FONT, size=10, color=INS_BLUE)))
ann.append(dict(x=63, y=0.99, xref='x13', yref='y7', text='Secondary', showarrow=False,
                font=dict(family=FONT, size=10, color=INS_RED)))
ann.append(dict(x=66, y=0.97, xref='x14', yref='y8', text='Secondary', showarrow=False,
                font=dict(family=FONT, size=10, color=INS_RED)))
ann.append(dict(x=58, y=0.645, xref='x14', yref='y8', text='Primary', showarrow=False,
                font=dict(family=FONT, size=10, color=INS_BLUE)))
ann.append(dict(x=42.6, y=0.75, xref='x13', yref='y7', ax=47.7, ay=0.703, axref='x13', ayref='y7',
                showarrow=True, arrowhead=2, arrowsize=0.8, arrowwidth=0.9, arrowcolor='#222', text=''))
ann.append(dict(x=29.5, y=0.645, xref='x14', yref='y8', ax=34, ay=0.597, axref='x14', ayref='y8',
                showarrow=True, arrowhead=2, arrowsize=0.8, arrowwidth=0.9, arrowcolor='#222', text=''))

shapes = []


def rect(x0, y0, x1, y1, color, line=None):
    d = dict(type='rect', xref='paper', yref='paper', x0=px(x0), x1=px(x1), y0=py(y1), y1=py(y0),
             fillcolor=color, line=dict(width=0) if line is None else line)
    shapes.append(d)


def path(points, width=1.4):
    s = 'M ' + ' L '.join('%f,%f' % (px(a), py(b)) for a, b in points)
    shapes.append(dict(type='path', xref='paper', yref='paper', path=s,
                       line=dict(color='black', width=width)))


rect(118, 3, 388, 106, 'rgba(0,0,0,0)', line=dict(color='#444', width=1.2))
rect(483, 140, 493, 148.5, BLUE_BAR)
rect(483, 156.5, 493, 165, RED_BAR)
rect(540, 440, 550, 450, RED_BAR)
rect(540, 455, 550, 464, PURPLE_BAR)
path([(466, 104), (466, 100), (564, 100), (564, 104)])
path([(515, 100), (515, 104)])
path([(460, 280), (460, 275.7), (557, 275.7), (557, 280)])
path([(508, 275.7), (508, 279.5)])

layout.update(width=W, height=H, margin=dict(l=0, r=0, t=0, b=0), autosize=False,
              paper_bgcolor='white', plot_bgcolor='white', barmode='overlay',
              annotations=ann, shapes=shapes, showlegend=False,
              font=dict(family=FONT, size=11, color='#111'))
fig.update_layout(**layout)
fig.write_html("out.html", config={'displayModeBar': False, 'staticPlot': True},
               post_script="document.body.style.margin='0';document.body.style.overflow='hidden';")
